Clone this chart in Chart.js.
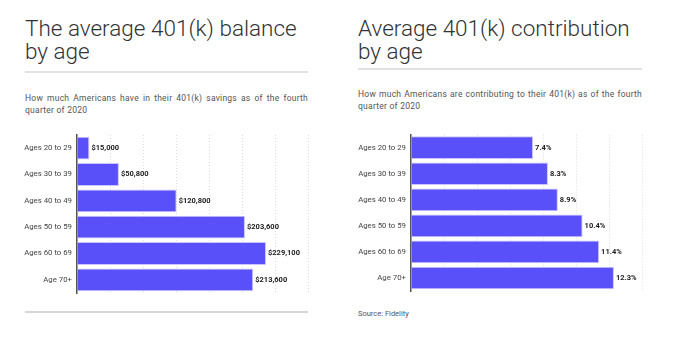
<!DOCTYPE html>
<html>
<head>
<meta charset="utf-8">
<script src="https://cdn.jsdelivr.net/npm/chart.js@4/dist/chart.umd.min.js"></script>
<style>
  body { margin: 0; background: #fff; width: 683px; height: 354px; position: relative; overflow: hidden; font-family: Roboto, sans-serif; }
  .title { position: absolute; top: 17px; font-size: 22.5px; line-height: 23px; font-weight: 300; color: #333; white-space: nowrap; }
  .rule { position: absolute; height: 2px; background: #e2e2e2; }
  .sub { position: absolute; font-size: 8.5px; letter-spacing: 0.25px; line-height: 11.5px; color: #555; text-align: justify; text-align-last: left; }
  .chart { position: absolute; top: 125px; height: 180px; }
  .source { position: absolute; left: 358px; top: 309px; font-size: 7.5px; color: #555; }
</style>
</head>
<body>
<div class="title" style="left:25px">The average 401(k) balance<br>by age</div>
<div class="rule" style="left:25px; top:71px; width:283px"></div>
<div class="sub" style="left:25px; top:93px; width:283px">How much Americans have in their 401(k) savings as of the fourth quarter of 2020</div>
<div class="chart" style="left:0; width:340px"><canvas id="balance"></canvas></div>
<div class="rule" style="left:25px; top:311px; width:283px; background:#d6d6d6"></div>

<div class="title" style="left:358px">Average 401(k) contribution<br>by age</div>
<div class="rule" style="left:358px; top:68px; width:284px"></div>
<div class="sub" style="left:358px; top:89px; width:284px">How much Americans are contributing to their 401(k) as of the fourth quarter of 2020</div>
<div class="chart" style="left:340px; width:343px"><canvas id="contrib"></canvas></div>
<div class="source">Source: Fidelity</div>

<script>
var ageGroups = ['Ages 20 to 29', 'Ages 30 to 39', 'Ages 40 to 49', 'Ages 50 to 59', 'Ages 60 to 69', 'Age 70+'];
var balances = [15000, 50800, 120800, 203600, 229100, 213600];
var contributions = [7.4, 8.3, 8.9, 10.4, 11.4, 12.3];

var barLabels = {
  id: 'barLabels',
  afterDatasetsDraw: function(chart, args, opts) {
    var ctx = chart.ctx;
    var meta = chart.getDatasetMeta(0);
    var data = chart.data.datasets[0].data;
    ctx.save();
    ctx.font = 'bold 7.5px Roboto, sans-serif';
    ctx.fillStyle = '#222';
    ctx.textAlign = 'left';
    ctx.textBaseline = 'middle';
    meta.data.forEach(function(bar, i) {
      ctx.fillText(opts.format(data[i]), bar.x + 2, bar.y);
    });
    ctx.restore();
  }
};

function load_chart(canvas, values, max, step, yWidth, padding, format) {
  new Chart(canvas, {
    type: 'bar',
    data: {
      labels: ageGroups,
      datasets: [{
        data: values,
        backgroundColor: '#5a50fa',
        borderColor: '#c9c5ff',
        borderWidth: 1,
        barPercentage: 0.87,
        categoryPercentage: 1
      }]
    },
    plugins: [barLabels],
    options: {
      indexAxis: 'y',
      responsive: true,
      maintainAspectRatio: false,
      animation: false,
      layout: { padding: padding },
      plugins: {
        legend: { display: false },
        tooltip: { enabled: false },
        barLabels: { format: format }
      },
      scales: {
        x: {
          min: 0,
          max: max,
          ticks: { display: false, stepSize: step },
          grid: { color: '#dcdcdc', drawTicks: false },
          border: { display: false, dash: [1, 2] },
          afterFit: function(scale) { scale.height = 0; }
        },
        y: {
          grid: { display: false, drawTicks: false },
          border: { color: '#555', width: 1.5 },
          ticks: { color: '#444', font: { size: 7.8, family: 'Roboto' }, padding: 5 },
          afterFit: function(scale) { scale.width = yWidth; }
        }
      }
    }
  });
}

load_chart(document.getElementById('balance'), balances, 280000, 40000, 77,
  { left: 0, right: 32, top: 10, bottom: 12 },
  function(v) { return '$' + v.toLocaleString('en-US'); });

load_chart(document.getElementById('contrib'), contributions, 14, 2, 71,
  { left: 0, right: 41, top: 6, bottom: 14 },
  function(v) { return v.toFixed(1) + '%'; });
</script>
</body>
</html>
